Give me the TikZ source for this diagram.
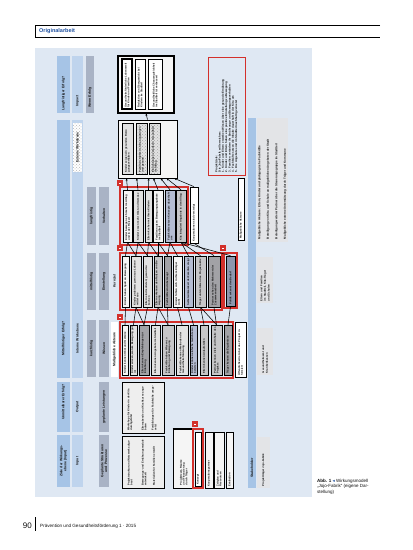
\documentclass[tikz,border=0pt]{standalone}
\usepackage{fontspec}
\setmainfont{Liberation Sans}
\newfontfamily\dejavu{DejaVu Sans}
\usetikzlibrary{patterns,fit,calc,arrows.meta}
\definecolor{panel}{HTML}{DFE8F3}
\definecolor{stripA}{HTML}{A6C4E6}
\definecolor{stripB}{HTML}{BFD4ED}
\definecolor{stripC}{HTML}{A9B3C5}
\definecolor{redb}{HTML}{D3302B}
\definecolor{hdblue}{HTML}{1E50A0}
\definecolor{wh}{HTML}{F5F5F5}
\definecolor{lg}{HTML}{E2E2E2}
\definecolor{mg}{HTML}{C6C6C8}
\definecolor{dg}{HTML}{A2A2A6}
\definecolor{bl}{HTML}{B4BCD2}
\definecolor{bd}{HTML}{8C97AE}
\definecolor{qgrey}{HTML}{E3E4E7}
\definecolor{txt}{HTML}{101010}
\newcommand\sfnt{\fontsize{3.4}{3.8}\selectfont\bfseries}
\newcommand\bfnt{\fontsize{2.6}{2.8}\selectfont\bfseries}
\newcommand\mybx[7]{%
  \pgfmathsetmacro\bxw{#5-#3}\pgfmathsetmacro\bxh{#4-#2}\pgfmathsetmacro\bxt{#5-#3-3}%
  \node[ibox,#6,minimum width=\bxw pt,minimum height=\bxh pt,text width=\bxt pt] (#1) at ({(#2+#4)/2},{(#3+#5)/2}) {#7};}
\newcommand\mystrip[7]{%
  \pgfmathsetmacro\bxw{#5-#3}\pgfmathsetmacro\bxh{#4-#2}\pgfmathsetmacro\bxt{#5-#3-5}%
  \node[stripbox,#6,minimum width=\bxw pt,minimum height=\bxh pt,text width=\bxt pt] (#1) at ({(#2+#4)/2},{(#3+#5)/2}) {#7};}
\begin{document}
\begin{tikzpicture}[x=1pt,y=-1pt,
  ibox/.style={rotate=90,draw=black,line width=0.5pt,inner sep=0.6pt,font=\bfnt,align=left,text=txt},
  stripbox/.style={rotate=90,inner sep=0.8pt,font=\sfnt,text=txt},
  redgrp/.style={draw=redb,line width=1.3pt,inner sep=0pt},
  blkgrp/.style={draw=black,inner sep=0pt},
  conn/.style={line width=0.55pt,black},
  arr/.style={line width=0.55pt,black,-{Stealth[length=2.2pt,width=2pt]}},
  redmark/.style={draw=redb,fill=redb,line width=0.6pt,minimum size=4.5pt,inner sep=0pt,
    path picture={\fill[white] ([shift={(-1.1pt,-0.5pt)}]path picture bounding box.center) rectangle ([shift={(1.1pt,0.5pt)}]path picture bounding box.center);}},
  txtrot/.style={rotate=90,inner sep=0pt,font=\bfnt,text=txt,align=left},
  qbox/.style={rotate=90,fill=qgrey,inner sep=1pt,align=left,text=txt}]
\useasboundingbox (0,0) rectangle (413,550);
\fill[white] (0,0) rectangle (413,550);
% header
\node[inner sep=0,anchor=west,font=\fontsize{5.5}{6}\selectfont\bfseries,text=hdblue] (hd) at (39,31) {Originalarbeit};
\draw[line width=0.7pt] (380,25) -- (35,25) -- (35,37) -- (380,37);
% panel
\fill[panel] (35,48) rectangle (312,497);
% strips
\mystrip{sA1}{57}{56}{70}{113}{fill=stripA,align=left}{Langfristiger Erfolg?}
\mystrip{sA2}{57}{120}{70}{378}{fill=stripA,align=left}{\hspace*{20pt}Mittelfristiger Erfolg?}
\mystrip{sA3}{57}{382}{70}{432}{fill=stripA,align=right}{Unmittelbarer Erfolg?}
\mystrip{sA4}{57}{435}{70}{487}{fill=stripA,align=center}{Ziele der Wirkungs-\\ebene (Input)}
\mystrip{sB1}{72}{56}{83}{113}{fill=stripB,align=left}{\hspace*{4pt}Impact}
\mystrip{sB2}{72}{120}{83}{378}{fill=stripB,align=left}{\hspace*{22pt}Interne Wirkebene}
\mystrip{sB3}{72}{382}{83}{432}{fill=stripB,align=center}{Output}
\mystrip{sB4}{72}{435}{83}{487}{fill=stripB,align=center}{Input}
\mystrip{sB2x}{73}{123}{82}{172}{preaction={fill=white},pattern=crosshatch dots,pattern color=gray!55,align=center}{Externe Wirkebene}
\mystrip{sC1}{86}{56}{94}{113}{fill=stripC,align=left}{\hspace*{3pt}Wenn Erfolg}
\mystrip{sC2}{87}{187}{96}{245}{fill=stripC,align=center}{langfristig}
\mystrip{sC3}{87}{253}{96}{310}{fill=stripC,align=center}{mittelfristig}
\mystrip{sC4}{87}{320}{96}{377}{fill=stripC,align=center}{kurzfristig}
\mystrip{sD2}{99}{187}{109}{245}{fill=stripC,align=center}{Verhalten}
\mystrip{sD3}{99}{253}{109}{310}{fill=stripC,align=center}{Einstellung}
\mystrip{sD4}{99}{320}{109}{377}{fill=stripC,align=center}{Wissen}
\mystrip{sD5}{99}{382}{109}{432}{fill=stripC,align=center}{geplante Leistungen}
\mystrip{sD6}{99}{435}{109}{487}{fill=stripC,align=center}{Geplante Strukturen\\und Prozesse}
\node[txtrot,font=\sfnt] (kz) at (114.5,281) {Kernziel};
\mystrip{lab3}{111}{322}{118}{377}{fill=white,align=center}{Maßgebliche Akteure}
% impact box
\node[blkgrp,line width=1.1pt,fill=wh,fit={(118,56)(174,113)}] (T) {};
\mybx{t1}{122}{59}{132}{109}{fill=white,line width=1.2pt}{Gesundheitsförderliche Lebenswelt für Kinder und Familien}
\mybx{t2}{135}{59}{145}{109}{fill=white}{Reduktion von Übergewicht bei Kindern im Stadtteil}
\mybx{t3}{148}{59}{162}{109}{fill=white}{Gesundheitliche Chancengleichheit im Stadtteil ist verbessert}
% outcome external
\node[blkgrp,line width=0.9pt,fill=wh,fit={(118,120)(177,178)}] (O) {};
\mybx{o1}{122}{123}{133}{174}{fill=lg}{Kinder zeigen ein gesundes Bewegungsverhalten}
\mybx{o2}{136}{123}{147}{174}{preaction={fill=lg},pattern=crosshatch dots,pattern color=gray!70}{Familien ernähren sich ausgewogen und gesund}
\mybx{o3}{149}{123}{160}{174}{preaction={fill=lg},pattern=crosshatch dots,pattern color=gray!70}{Einrichtungen verankern Gesundheit im Alltag}
\draw[arr] (O.north) -- (T.south);
% group 1 Verhalten
\node[redgrp,fit={(120,187)(188,245)}] (G1) {};
\mybx{g1-1}{123}{190}{132}{242}{fill=wh}{Kinder bewegen sich mehr im Alltag und in der Freizeit}
\mybx{g1-2}{133}{190}{143}{242}{fill=lg}{Kinder essen mehr Obst und Gemüse}
\mybx{g1-3}{145}{190}{152}{242}{fill=lg}{Eltern kochen mit ihren Kindern}
\mybx{g1-4}{153}{190}{163}{242}{fill=wh}{Familien nutzen Bewegungsangebote im Stadtteil}
\mybx{g1-5}{165}{190}{175}{242}{fill=bl}{Fachkräfte setzen Konzepte dauerhaft um}
\mybx{g1-6}{176}{190}{186}{242}{fill=mg}{Kita integriert Angebote in den Alltag}
\mybx{g1x}{190}{187}{198}{243}{fill=white,line width=0.7pt}{Kooperationen sind verstetigt}
\draw[arr] (g1-1.east) -- ($(O.south west)!0.15!(O.south east)$);
\draw[arr] (g1-2.east) -- ($(O.south west)!0.32!(O.south east)$);
\draw[arr] (g1-3.east) -- ($(O.south west)!0.52!(O.south east)$);
\draw[arr] (g1-4.east) -- ($(O.south west)!0.6!(O.south east)$);
\draw[arr] (g1-5.east) -- ($(O.south west)!0.72!(O.south east)$);
\draw[arr] (g1-6.east) -- ($(O.south west)!0.82!(O.south east)$);
\draw[arr] (g1x.east) -- ($(O.south west)!0.95!(O.south east)$);
% group 2 Einstellung
\node[redgrp,fit={(120,253)(222,310)}] (G2) {};
\mybx{g2-1}{122}{256}{129}{307}{fill=wh}{Kinder haben Spaß an Bewegung}
\mybx{g2-2}{131}{256}{141}{307}{fill=lg}{Kinder probieren gern neue Lebensmittel aus}
\mybx{g2-3}{143}{256}{152}{307}{fill=lg}{Eltern sind motiviert, gesund zu kochen}
\mybx{g2-4}{154}{256}{162}{307}{fill=mg}{Eltern erkennen den Nutzen von Bewegung}
\mybx{g2-5}{164}{256}{171}{307}{fill=dg}{Fachkräfte sind überzeugt}
\mybx{g2-6}{173}{256}{182}{307}{fill=wh}{Kinder fühlen sich in ihrem Körper wohl}
\mybx{g2-7}{184}{256}{193}{307}{fill=bl}{Selbstwirksamkeit der Familien steigt}
\mybx{g2-8}{195}{256}{206}{307}{fill=mg}{Träger unterstützen das Projekt aktiv}
\mybx{g2-9}{208}{256}{220}{307}{fill=dg,line width=0.8pt}{Partner sehen den Mehrwert der Zusammenarbeit}
\node[redgrp,line width=1.1pt,fit={(224,253)(237,308)}] (G2x) {};
\mybx{g2x}{226}{256}{235}{306}{fill=bd,line width=0.7pt}{Politik erkennt den Bedarf}
\foreach \a/\b in {1/1,2/1,2/2,3/2,3/3,4/3,4/4,5/4,5/5,6/5,7/6,8/6}
  \draw[conn] (g2-\a.east) -- (g1-\b.west);
\draw[conn] (g2-9.east) -- (g1x.west);
\draw[conn] (g2x.east) -- (g1-6.west);
% group 3 Wissen
\node[redgrp,fit={(120,322)(233,378)}] (G3) {};
\mybx{g3-1}{122}{325}{128}{375}{fill=wh}{Kinder kennen Obst und Gemüse}
\mybx{g3-2}{130}{325}{137}{375}{fill=lg}{Kinder wissen, warum Bewegung gut ist}
\mybx{g3-3}{139}{325}{149}{375}{fill=dg}{Eltern kennen Empfehlungen zur Ernährung}
\mybx{g3-4}{151}{325}{160}{375}{fill=lg}{Eltern kennen Angebote im Stadtteil}
\mybx{g3-5}{162}{325}{174}{375}{fill=mg}{Fachkräfte haben Wissen zu Ernährung und Bewegung}
\mybx{g3-6}{176}{325}{188}{375}{fill=lg}{Fachkräfte kennen Methoden der Gesundheitsförderung}
\mybx{g3-7}{190}{325}{197}{375}{fill=bl}{Kinder können einfache Gerichte zubereiten}
\mybx{g3-8}{200}{325}{208}{375}{fill=mg}{Eltern kennen Anlaufstellen}
\mybx{g3-9}{211}{325}{222}{375}{fill=mg}{Partner kennen Ziele und Inhalte des Projekts}
\mybx{g3-10}{224}{325}{232}{375}{fill=dg}{Träger kennen die Ergebnisse}
\mybx{g3x}{235}{322}{246}{377}{fill=white,line width=0.7pt}{Öffentlichkeit ist über das Projekt informiert}
\foreach \a/\b in {1/1,2/2,3/2,3/3,4/4,5/4,5/5,6/6,7/7,8/8,9/8,9/9}
  \draw[conn] (g3-\a.east) -- (g2-\b.west);
\draw[conn] (g3-10.east) -- (g2x.west);
% output boxes
\node[blkgrp,line width=0.8pt,fill=lg!60!white,fit={(122,382)(164,433)}] (P1) {};
\node[txtrot,text width=46pt] (p1a) at (130,407.5) {Workshops für Kinder in der Kita durchgeführt};
\node[txtrot,text width=46pt] (p1b) at (144,407.5) {Elternabende und Kochkurse angeboten};
\node[txtrot,text width=46pt] (p1c) at (154,407.5) {Fortbildungen für Fachkräfte umgesetzt};
\node[blkgrp,line width=0.8pt,fill=lg!60!white,fit={(122,436)(164,488)}] (P2) {};
\node[txtrot,text width=47pt] (p2a) at (130,462) {Projektstruktur und Netzwerk aufgebaut};
\node[txtrot,text width=47pt] (p2b) at (144,462) {Bewegungs- und Ernährungsmodule entwickelt};
\node[txtrot,text width=47pt] (p2c) at (154,462) {Materialien für Familien erstellt};
% structure boxes
\node[blkgrp,line width=0.6pt,fill=wh,fit={(173,429)(193,488)}] (S1) {};
\draw[line width=1.3pt] (S1.north west) -- (S1.north east);
\node[txtrot,text width=54pt] (s1t) at (184,458) {Projektteam, Räume\\und Finanzierung\\durch Träger};
\node[redgrp,line width=1.1pt,fit={(193,429)(203,488)}] (S2) {};
\mybx{s2}{195}{432}{201}{486}{fill=white}{Konzept}
\mybx{s3}{205}{432}{213}{488}{fill=wh}{Kooperationspartner}
\mybx{s4}{214}{432}{224}{488}{fill=wh}{Zeitplan und\\Ressourcen}
\mybx{s5}{226}{432}{233}{488}{fill=wh}{Evaluation}
% right side
\mystrip{R}{248}{118}{256}{488}{fill=stripA,align=left}{\hspace*{8pt}Stakeholder}
\node[qbox,minimum width=124pt,minimum height=31pt,text width=118pt,font=\fontsize{2.9}{8.5}\selectfont\bfseries] (Q1) at (272.5,180) {Maßgebliche Akteure: Eltern, Kinder und pädagogische Fachkräfte\\Beteiligung von Kita und Schule an maßgeblichen Angeboten der Stadt\\Beteiligung weiterer Partner über die Steuerungsgruppe im Stadtteil\\Maßgebliche externe Unterstützung durch Träger und Kommune};
\node[qbox,minimum width=46pt,minimum height=16pt,text width=42pt,font=\fontsize{2.7}{3.6}\selectfont\bfseries] (Q2) at (265,280) {Eltern und Familien\\im Stadtteil, Kita-Träger\\und Schulen};
\node[qbox,minimum width=47pt,minimum height=16pt,text width=43pt,font=\fontsize{2.7}{3.6}\selectfont\bfseries] (Q3) at (265,351.5) {Gesundheitsamt und\\Krankenkassen};
\node[qbox,minimum width=51pt,minimum height=13pt,text width=47pt,font=\fontsize{2.7}{3.6}\selectfont\bfseries] (Q4) at (263.5,462.5) {Projektträger Jojo-Fabrik};
% red text box
\node[rotate=90,draw=redb,line width=0.9pt,minimum width=118pt,minimum height=37pt,text width=112pt,inner sep=1pt,align=left,font=\fontsize{2.8}{3.3}\selectfont\bfseries,text=txt] (RB) at (226.5,116) {Projektziele:\\Die Jojo-Fabrik will erreichen:\\1. Kinder und Eltern erwerben Wissen über eine gesunde Ernährung\\2. Kinder und Eltern haben eine positive Einstellung zu Bewegung\\3. Familien verändern ihr Ernährungs- und Bewegungsverhalten\\4. Fachkräfte setzen die Inhalte dauerhaft in der Kita um\\5. Die Angebote sind im Stadtteil nachhaltig vernetzt};
\mybx{ma}{238}{178}{244}{240}{fill=white,line width=0.6pt}{Maßgebliche Akteure}
% markers
\node[redmark] (mk1) at (120,183) {};
\node[redmark] (mk2) at (120,248) {};
\node[redmark] (mk3) at (120,317) {};
\node[redmark] (mk4) at (223,248) {};
\node[redmark] (mk5) at (195,424) {};
% caption
\node[anchor=north west,inner sep=0,align=left,font=\fontsize{4.5}{5.5}\selectfont,text=txt] (cap) at (317,479) {\textbf{Abb. 1} {\dejavu\color{hdblue}◂} Wirkungsmodell\\„Jojo-Fabrik“ (eigene Dar-\\stellung)};
% footer
\node[anchor=base east,inner sep=0,font=\fontsize{8}{9}\selectfont,text=txt] (pg) at (32,528) {90};
\draw[line width=0.7pt] (35.5,517) -- (35.5,531);
\node[anchor=base west,inner sep=0,font=\fontsize{4.6}{5}\selectfont,text=txt] (ft) at (40,527) {Prävention und Gesundheitsförderung 1 · 2015};
\end{tikzpicture}
\end{document}
